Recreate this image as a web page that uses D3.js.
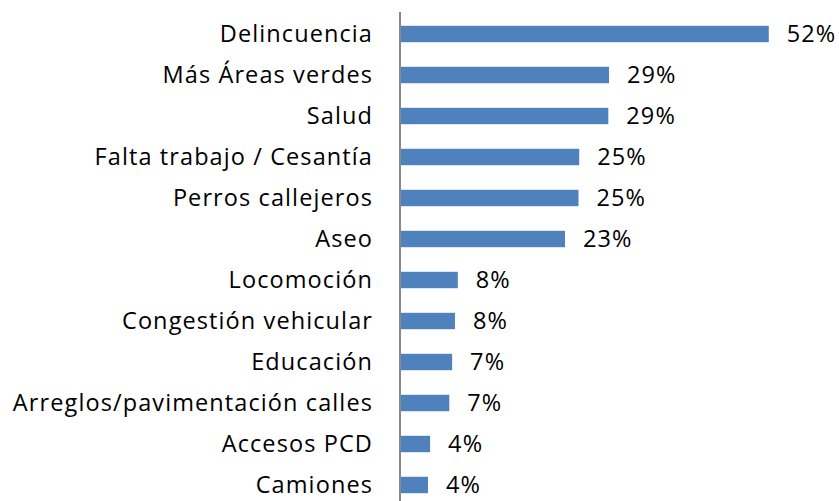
<!DOCTYPE html>
<html>
<head>
<meta charset="utf-8">
<script src="https://cdn.jsdelivr.net/npm/d3@7"></script>
<style>
  body { margin: 0; background: #fff; }
  text { font-family: "Open Sans", sans-serif; fill: #000; letter-spacing: 1.1px; }
</style>
</head>
<body>
<div id="main"></div>
<script>
const categories = ['Delincuencia', 'Más Áreas verdes', 'Salud', 'Falta trabajo / Cesantía',
  'Perros callejeros', 'Aseo', 'Locomoción', 'Congestión vehicular', 'Educación',
  'Arreglos/pavimentación calles', 'Accesos PCD', 'Camiones'];
const values = [51.8, 29.3, 29.2, 25.1, 25.0, 23.1, 8.0, 7.6, 7.2, 6.8, 4.1, 3.8];

document.addEventListener('DOMContentLoaded', () => {
  const width = 839, height = 501;
  const axisX = 400;
  const fs = 23.5;
  const data = categories.map((c, i) => ({ c, v: values[i] }));

  const svg = d3.select('#main').append('svg')
    .attr('width', width).attr('height', height)
    .attr('viewBox', [0, 0, width, height]);

  const sx = d3.scaleLinear().domain([0, 60]).range([axisX + 1, axisX + 1 + 426]);
  const sy = d3.scaleBand().domain(categories)
    .range([13.5, 505.5]).paddingInner(0.6).paddingOuter(0.3);

  svg.append('g').selectAll('rect').data(data).join('rect')
    .attr('x', sx(0))
    .attr('y', d => sy(d.c))
    .attr('width', d => sx(d.v) - sx(0))
    .attr('height', sy.bandwidth())
    .attr('fill', '#4F81BD');

  // value labels
  svg.append('g').selectAll('text').data(data).join('text')
    .attr('x', d => sx(d.v) + 18)
    .attr('y', d => sy(d.c) + sy.bandwidth() / 2)
    .attr('dy', '0.36em')
    .attr('font-size', fs)
    .text(d => Math.round(d.v) + '%');

  // category axis (letter-spacing adds trailing space, so pad a little less)
  const ay = d3.axisLeft(sy).tickSize(0).tickPadding(27);
  const g = svg.append('g').attr('transform', `translate(${axisX},0)`).call(ay);
  g.select('.domain').remove();
  g.attr('font-family', null).attr('font-size', null);
  g.selectAll('text').attr('font-size', fs).attr('fill', '#000').attr('dy', '0.36em');

  svg.append('line')
    .attr('x1', axisX).attr('x2', axisX)
    .attr('y1', 12).attr('y2', height)
    .attr('stroke', '#898989').attr('stroke-width', 2);
});
</script>
</body>
</html>
